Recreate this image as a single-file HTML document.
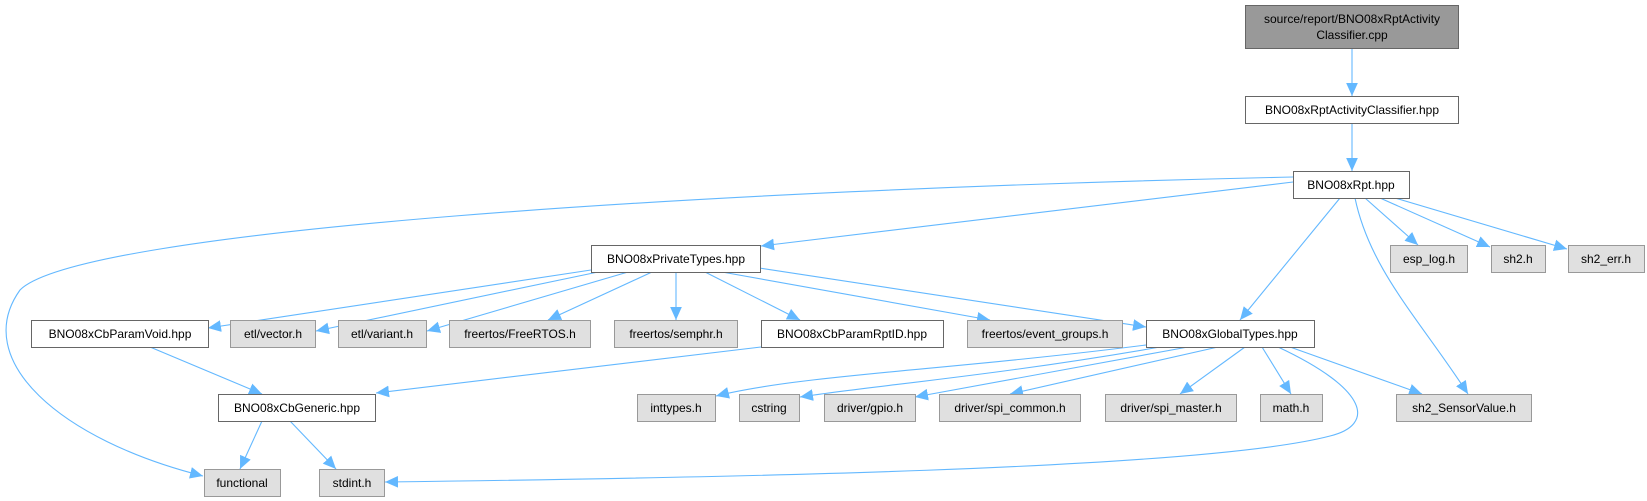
<!DOCTYPE html>
<html><head><meta charset="utf-8"><style>
html,body{margin:0;padding:0;background:#fff;width:1647px;height:501px;overflow:hidden}
svg{display:block}
text{font-family:"Liberation Sans",Arial,sans-serif;font-size:12px;fill:#000}
.e{fill:none;stroke:#63b8ff;stroke-width:1.1}
.w{fill:#fff;stroke:#666;stroke-width:1}
.g{fill:#e0e0e0;stroke:#999;stroke-width:1}
</style></head><body>
<svg width="1647" height="501" viewBox="0 0 1647 501">
<defs><marker id="a" viewBox="0 0 10 10" refX="10" refY="5" markerWidth="13" markerHeight="13" markerUnits="userSpaceOnUse" orient="auto"><path d="M0,0.5 L10,5 L0,9.5 z" fill="#63b8ff"/></marker></defs>
<g marker-end="url(#a)">
<path class="e" d="M1352,48 L1352,96"/>
<path class="e" d="M1352,123 L1352,171"/>
<path class="e" d="M1293,177 C700,190 80,230 20,290 C-30,360 60,440 203,476"/>
<path class="e" d="M1293,182 L761,246"/>
<path class="e" d="M1340,198 L1240,320"/>
<path class="e" d="M1355,198 C1370,270 1420,320 1468,394"/>
<path class="e" d="M1365,198 L1418,245"/>
<path class="e" d="M1380,198 L1490,247"/>
<path class="e" d="M1395,198 L1567,249"/>
<path class="e" d="M591,270 L208,328"/>
<path class="e" d="M598,272 L316,331"/>
<path class="e" d="M628,272 L427,331"/>
<path class="e" d="M652,272 L548,320"/>
<path class="e" d="M676,272 L676,320"/>
<path class="e" d="M705,272 L800,320"/>
<path class="e" d="M722,272 L990,320"/>
<path class="e" d="M759,268 L1146,327"/>
<path class="e" d="M150,347 L262,394"/>
<path class="e" d="M761,347 L376,393"/>
<path class="e" d="M262,421 L240,469"/>
<path class="e" d="M290,421 L336,469"/>
<path class="e" d="M1146,345 C950,370 800,375 716,396"/>
<path class="e" d="M1160,347 C1000,375 880,385 800,397"/>
<path class="e" d="M1188,347 L915,397"/>
<path class="e" d="M1218,347 L1010,394"/>
<path class="e" d="M1245,347 L1180,394"/>
<path class="e" d="M1262,347 L1291,394"/>
<path class="e" d="M1278,347 C1370,390 1375,425 1330,436 C1200,470 700,478 385,482"/>
<path class="e" d="M1290,347 L1422,394"/>
</g>
<rect x="1245.5" y="5.5" width="213" height="43" fill="#999" stroke="#666"/>
<text x="1352" y="23" text-anchor="middle">source/report/BNO08xRptActivity</text>
<text x="1352" y="39" text-anchor="middle">Classifier.cpp</text>
<rect class="w" x="1245.5" y="96.5" width="213" height="27"/><text x="1352" y="114" text-anchor="middle">BNO08xRptActivityClassifier.hpp</text>
<rect class="w" x="1293.5" y="171.5" width="116" height="27"/><text x="1351" y="189" text-anchor="middle">BNO08xRpt.hpp</text>
<rect class="w" x="591.5" y="245.5" width="169" height="27"/><text x="676" y="263" text-anchor="middle">BNO08xPrivateTypes.hpp</text>
<rect class="g" x="1390.5" y="245.5" width="77" height="27"/><text x="1429" y="263" text-anchor="middle">esp_log.h</text>
<rect class="g" x="1491.5" y="245.5" width="54" height="27"/><text x="1518" y="263" text-anchor="middle">sh2.h</text>
<rect class="g" x="1568.5" y="245.5" width="76" height="27"/><text x="1606" y="263" text-anchor="middle">sh2_err.h</text>
<rect class="w" x="31.5" y="320.5" width="177" height="27"/><text x="120" y="338" text-anchor="middle">BNO08xCbParamVoid.hpp</text>
<rect class="g" x="230.5" y="320.5" width="85" height="27"/><text x="273" y="338" text-anchor="middle">etl/vector.h</text>
<rect class="g" x="338.5" y="320.5" width="88" height="27"/><text x="382" y="338" text-anchor="middle">etl/variant.h</text>
<rect class="g" x="449.5" y="320.5" width="141" height="27"/><text x="520" y="338" text-anchor="middle">freertos/FreeRTOS.h</text>
<rect class="g" x="614.5" y="320.5" width="123" height="27"/><text x="676" y="338" text-anchor="middle">freertos/semphr.h</text>
<rect class="w" x="761.5" y="320.5" width="182" height="27"/><text x="852" y="338" text-anchor="middle">BNO08xCbParamRptID.hpp</text>
<rect class="g" x="967.5" y="320.5" width="155" height="27"/><text x="1045" y="338" text-anchor="middle">freertos/event_groups.h</text>
<rect class="w" x="1146.5" y="320.5" width="168" height="27"/><text x="1230" y="338" text-anchor="middle">BNO08xGlobalTypes.hpp</text>
<rect class="w" x="218.5" y="394.5" width="157" height="27"/><text x="297" y="412" text-anchor="middle">BNO08xCbGeneric.hpp</text>
<rect class="g" x="637.5" y="394.5" width="78" height="27"/><text x="676" y="412" text-anchor="middle">inttypes.h</text>
<rect class="g" x="739.5" y="394.5" width="60" height="27"/><text x="769" y="412" text-anchor="middle">cstring</text>
<rect class="g" x="824.5" y="394.5" width="91" height="27"/><text x="870" y="412" text-anchor="middle">driver/gpio.h</text>
<rect class="g" x="939.5" y="394.5" width="141" height="27"/><text x="1010" y="412" text-anchor="middle">driver/spi_common.h</text>
<rect class="g" x="1105.5" y="394.5" width="131" height="27"/><text x="1171" y="412" text-anchor="middle">driver/spi_master.h</text>
<rect class="g" x="1260.5" y="394.5" width="62" height="27"/><text x="1291" y="412" text-anchor="middle">math.h</text>
<rect class="g" x="1396.5" y="394.5" width="135" height="27"/><text x="1464" y="412" text-anchor="middle">sh2_SensorValue.h</text>
<rect class="g" x="204.5" y="469.5" width="76" height="27"/><text x="242" y="487" text-anchor="middle">functional</text>
<rect class="g" x="319.5" y="469.5" width="65" height="27"/><text x="352" y="487" text-anchor="middle">stdint.h</text>
</svg>
</body></html>
